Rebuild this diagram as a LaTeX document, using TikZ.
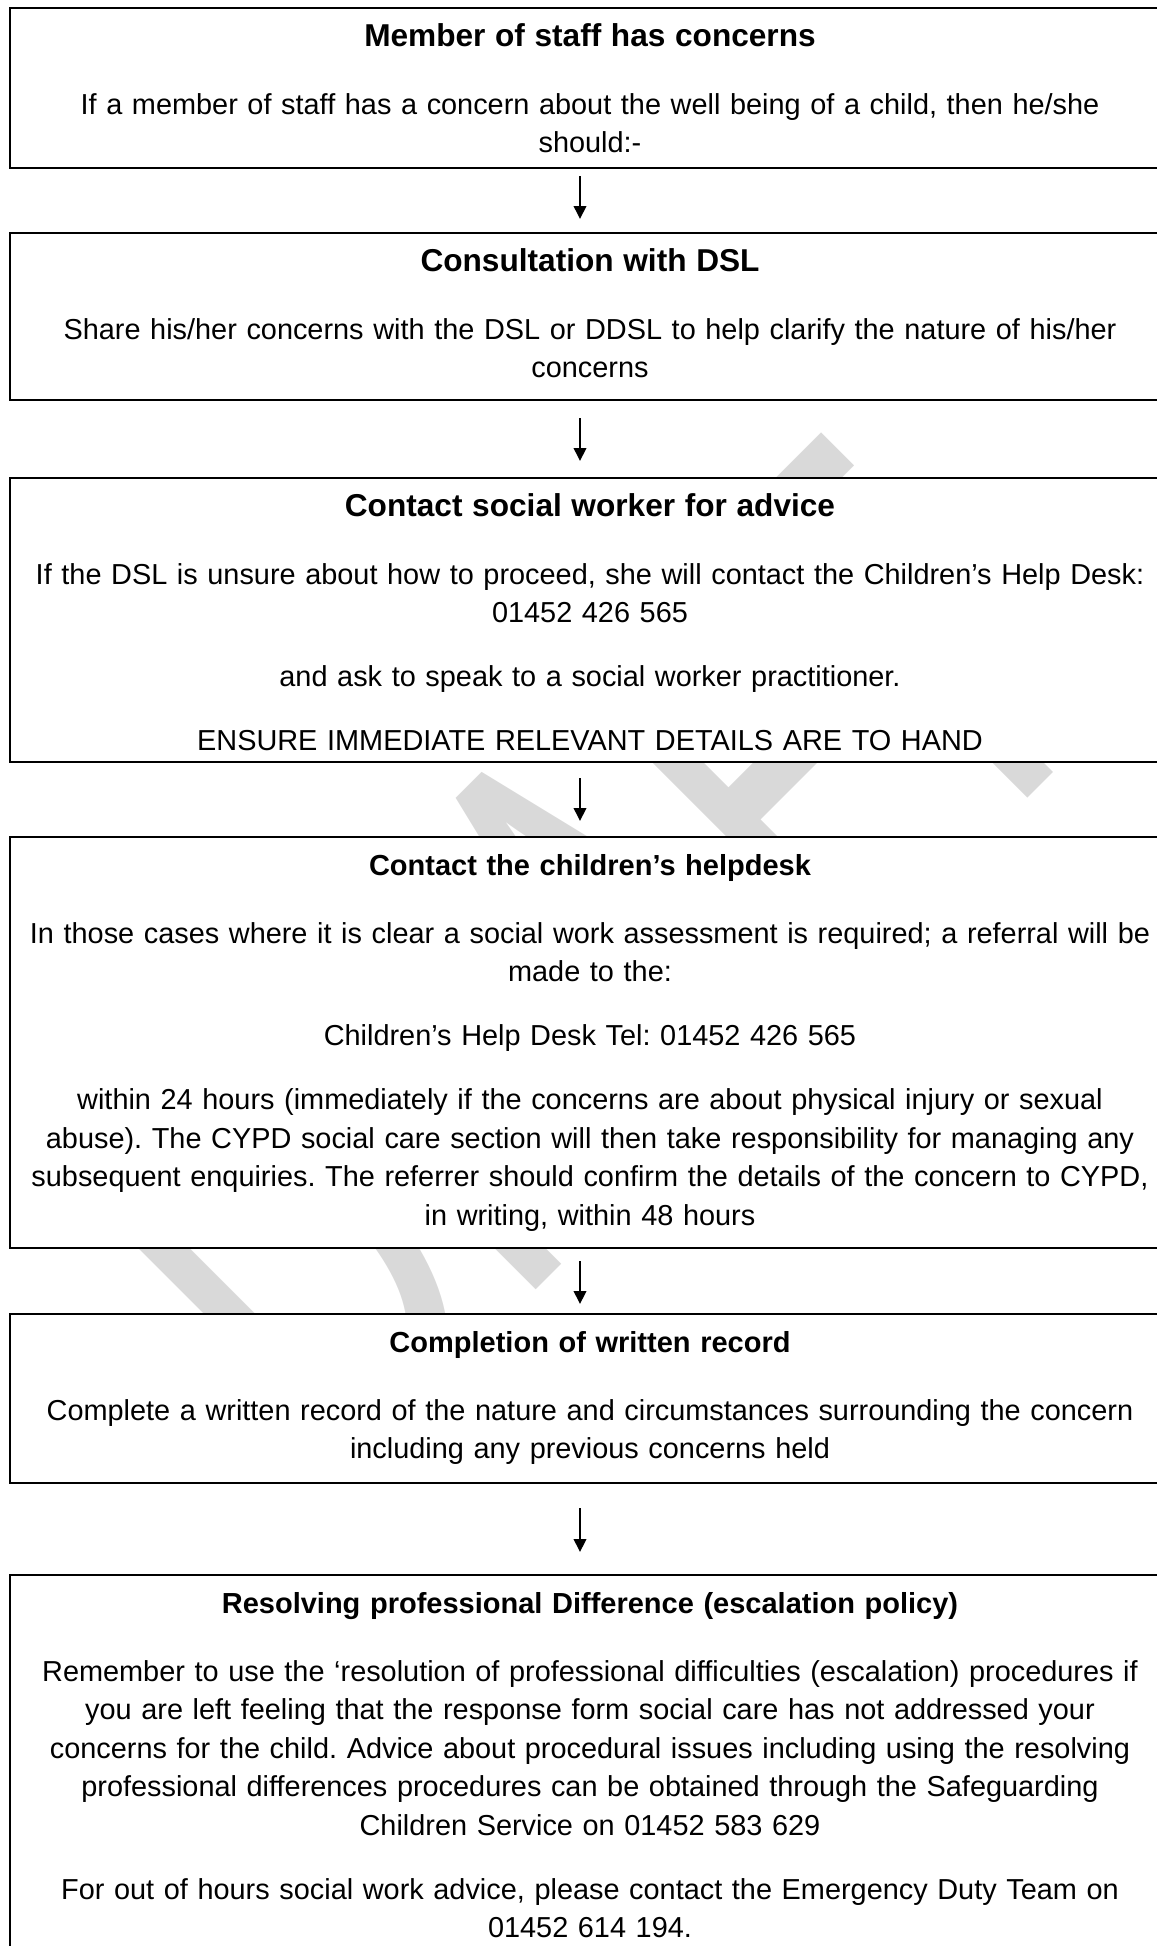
\documentclass[tikz,border=0pt]{standalone}
\usepackage{graphicx}
\usepackage{fontspec}
\setmainfont{Liberation Sans}
\newfontfamily\draftfont{Carlito}
\usetikzlibrary{arrows.meta}
\definecolor{wmgrey}{HTML}{D9D9D9}
\newcommand{\headlarge}[1]{\strut{\fontsize{12.65}{15.4}\selectfont\bfseries #1}}
\newcommand{\headsmall}[1]{\strut{\fontsize{11.6}{15.4}\selectfont\bfseries #1}}
\frenchspacing

\begin{document}
\begin{tikzpicture}[x=0.4pt, y=-0.4pt, >={Triangle[length=5.2pt,width=5pt]},
    flowbox/.style={draw, fill=white, line width=0.8pt, minimum width=464pt, inner sep=0pt},
    boxtext/.style={anchor=north, inner sep=0pt, align=center, text width=520pt,
        font=\fontsize{11.55}{15.4}\selectfont},
    flowarrow/.style={->, line width=0.8pt}]
        \useasboundingbox (0,0) rectangle (1157,1946);
        \clip (0,0) rectangle (1157,1946);
        % watermark, mostly hidden by the boxes
        \node[text=wmgrey, rotate=45, inner sep=0pt, font=\draftfont\fontsize{252}{252}\selectfont] (draft) at (581.5,958.5) {\scalebox{0.646}[1]{DRAFT}};
        % boxes
        \node[flowbox, minimum height=64pt] (staff) at (590,88) {};
        \node[flowbox, minimum height=66.8pt] (dsl) at (590,316.5) {};
        \node[flowbox, minimum height=113.6pt] (advice) at (590,620) {};
        \node[flowbox, minimum height=164.4pt] (helpdesk) at (590,1042.5) {};
        \node[flowbox, minimum height=67.6pt] (record) at (590,1398.5) {};
        \node[flowbox, minimum height=168pt] (escalate) at (590,1785) {};
        % texts
        \node[boxtext] (staffT) at ([yshift=-4.8pt]staff.north) {\headlarge{Member of staff has concerns}\\[11.8pt]
            If a member of staff has a concern about the well being of a child, then he/she\\ should:-};
        \node[boxtext] (dslT) at ([yshift=-4.8pt]dsl.north) {\headlarge{Consultation with DSL}\\[11.8pt]
            Share his/her concerns with the DSL or DDSL to help clarify the nature of his/her\\ concerns};
        \node[boxtext] (adviceT) at ([yshift=-4.8pt]advice.north) {\headlarge{Contact social worker for advice}\\[11.8pt]
            If the DSL is unsure about how to proceed, she will contact the Children’s Help Desk:\\ 01452 426 565\\[10.2pt]
            and ask to speak to a social worker practitioner.\\[10.2pt]
            ENSURE IMMEDIATE RELEVANT DETAILS ARE TO HAND};
        \node[boxtext] (helpdeskT) at ([yshift=-4.8pt]helpdesk.north) {\headsmall{Contact the children’s helpdesk}\\[11.8pt]
            In those cases where it is clear a social work assessment is required; a referral will be\\ made to the:\\[10.2pt]
            Children’s Help Desk Tel: 01452 426 565\\[10.2pt]
            within 24 hours (immediately if the concerns are about physical injury or sexual\\
            abuse). The CYPD social care section will then take responsibility for managing any\\
            subsequent enquiries. The referrer should confirm the details of the concern to CYPD,\\
            in writing, within 48 hours};
        \node[boxtext] (recordT) at ([yshift=-4.8pt]record.north) {\headsmall{Completion of written record}\\[11.8pt]
            Complete a written record of the nature and circumstances surrounding the concern\\
            including any previous concerns held};
        \node[boxtext] (escalateT) at ([yshift=-4.8pt]escalate.north) {\headsmall{Resolving professional Difference (escalation policy)}\\[11.8pt]
            Remember to use the ‘resolution of professional difficulties (escalation) procedures if\\
            you are left feeling that the response form social care has not addressed your\\
            concerns for the child. Advice about procedural issues including using the resolving\\
            professional differences procedures can be obtained through the Safeguarding\\
            Children Service on 01452 583 629\\[10.2pt]
            For out of hours social work advice, please contact the Emergency Duty Team on\\
            01452 614 194.};
        % arrows
        \draw[flowarrow, shorten <=2.8pt, shorten >=5.2pt] ([xshift=-4pt]staff.south) -- ([xshift=-4pt]dsl.north);
        \draw[flowarrow, shorten <=6.8pt, shorten >=6.4pt] ([xshift=-4pt]dsl.south) -- ([xshift=-4pt]advice.north);
        \draw[flowarrow, shorten <=6pt, shorten >=6pt] ([xshift=-4pt]advice.south) -- ([xshift=-4pt]helpdesk.north);
        \draw[flowarrow, shorten <=4.8pt, shorten >=3.6pt] ([xshift=-4pt]helpdesk.south) -- ([xshift=-4pt]record.north);
        \draw[flowarrow, shorten <=9.6pt, shorten >=8.8pt] ([xshift=-4pt]record.south) -- ([xshift=-4pt]escalate.north);
    \end{tikzpicture}
\end{document}
